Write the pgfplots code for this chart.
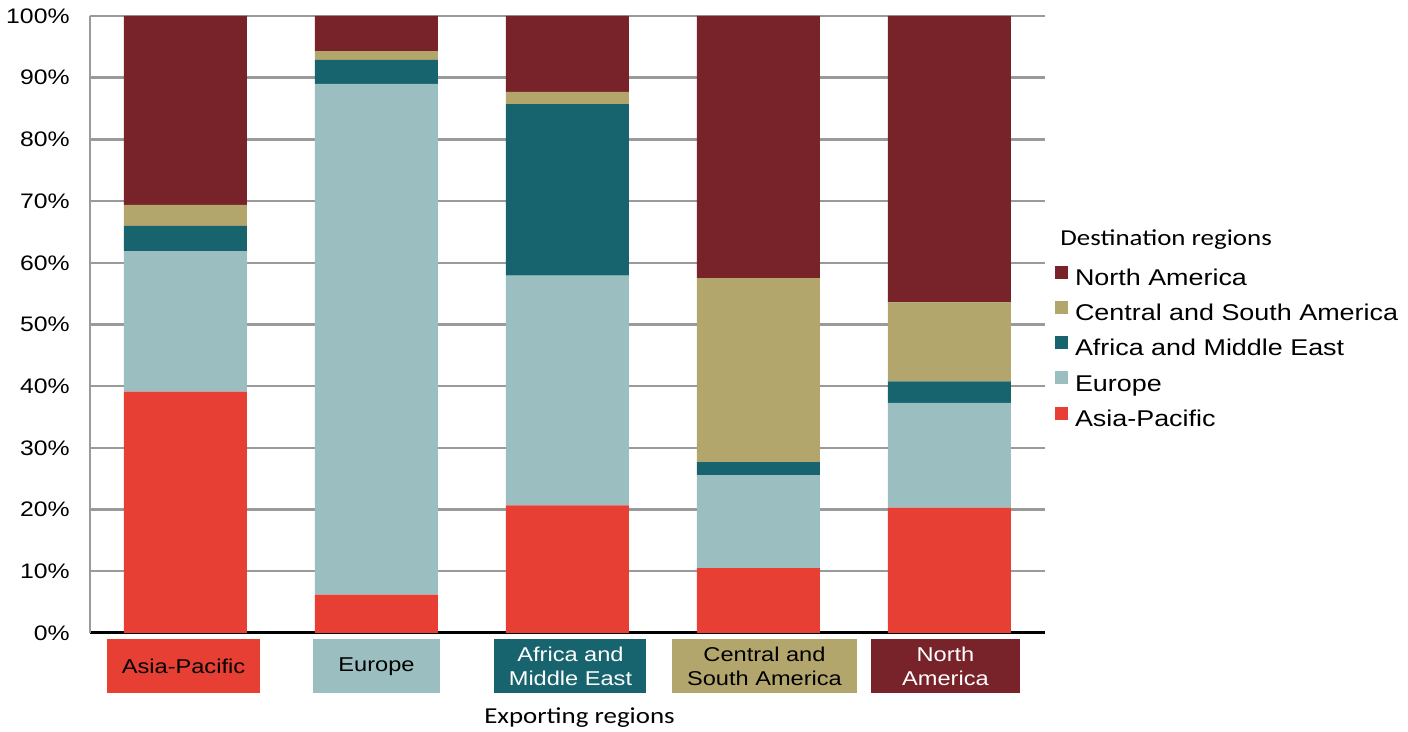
\documentclass[border=0pt]{standalone}
\usepackage{fontspec}
\setmainfont{Liberation Sans}[FakeStretch=1.18]
\newfontfamily\calib{Carlito}[FakeStretch=1.18]
\usepackage{pgfplots}
\usepackage{pgfplotstable}
\pgfplotsset{compat=1.18}
\usetikzlibrary{calc}

\definecolor{apred}{HTML}{E83F35}
\definecolor{eublue}{HTML}{9BBEC1}
\definecolor{ameteal}{HTML}{17646E}
\definecolor{csagold}{HTML}{B3A66C}
\definecolor{namaroon}{HTML}{78232A}
\definecolor{gridgray}{HTML}{9A9A9A}

\setlength{\fboxsep}{0pt}
% coloured box used as an x tick label; #5 = twice the sideways shift
\newcommand{\xb}[5]{\hspace*{#5}\colorbox{#1}{\parbox[c][27pt][c]{#2}{\centering\color{#3}#4\par}}}

% shares of exports by destination, one row per exporting region
\pgfplotstableread{
x   ap    eu    ame   csa   na
0   39.1  22.8  4.1   3.4   30.6
1   6.2   82.8  3.9   1.4   5.7
2   20.7  37.2  27.8  2.0   12.3
3   10.5  15.1  2.1   29.8  42.5
4   20.3  17.0  3.5   12.8  46.4
}\shares

\begin{document}
\begin{tikzpicture}
\begin{axis}[
    name=ax, at={(0,0)}, anchor=south west,
    scale only axis, width=477.5pt, height=308.5pt,
    ybar stacked, bar width=61.5pt,
    xmin=-0.5, xmax=4.5, ymin=0, ymax=100,
    xtick={0,...,4},
    xticklabels={
        \xb{apred}{76.5pt}{black}{Asia-Pacific}{-2pt},
        \xb{eublue}{63.5pt}{black}{Europe}{0pt},
        \xb{ameteal}{76pt}{white}{Africa and\\Middle East}{3pt},
        \xb{csagold}{92.5pt}{black}{Central and\\South America}{6pt},
        \xb{namaroon}{74.5pt}{white}{North\\America}{-4pt}},
    ytick={0,10,...,100},
    yticklabel={\pgfmathprintnumber{\tick}\%},
    /pgf/number format/assume math mode=true,
    axis lines*=left,
    x axis line style={black, line width=1.5pt},
    y axis line style={gridgray, line width=1pt},
    major tick length=0pt,
    ymajorgrids, grid style={gridgray, line width=1.2pt},
    yticklabel style={font=\fontsize{10.5}{12}\selectfont, inner sep=0pt, anchor=east, xshift=-10pt},
    xticklabel style={font=\fontsize{10}{11.7}\selectfont, inner sep=0pt, anchor=north, yshift=-3pt},
    reverse legend,
    legend cell align=left,
    legend style={at={(1.0105,0.5950)}, anchor=north west, draw=none, fill=none,
        inner sep=0pt, outer sep=0pt, row sep=4.6pt,
        font=\fontsize{11.4}{13}\selectfont,
        nodes={inner sep=0pt, text height=8.2pt, text depth=3.2pt}},
    legend image code/.code={\fill[#1,draw=none] (0pt,0.8pt) rectangle (6.5pt,7.3pt); \path (10pt,0pt);},
]
\addplot[fill=apred, draw=none] table[x=x, y=ap] {\shares};
\addlegendentry{Asia-Pacific}
\addplot[fill=eublue, draw=none] table[x=x, y=eu] {\shares};
\addlegendentry{Europe}
\addplot[fill=ameteal, draw=none] table[x=x, y=ame] {\shares};
\addlegendentry{Africa and Middle East}
\addplot[fill=csagold, draw=none] table[x=x, y=csa] {\shares};
\addlegendentry{Central and South America}
\addplot[fill=namaroon, draw=none] table[x=x, y=na] {\shares};
\addlegendentry{North America}
\end{axis}
\node[anchor=west, inner sep=0pt, font=\calib\fontsize{11.4}{13}\selectfont]
    at ($(ax.south west)+(485pt,196.5pt)$) {Destination regions};
\node[inner sep=0pt, font=\calib\fontsize{11.4}{13}\selectfont]
    at ($(ax.south west)+(244.75pt,-42.5pt)$) {Exporting regions};
\pgfresetboundingbox
\path[use as bounding box] ($(ax.south west)+(-45pt,-49.5pt)$) rectangle ($(ax.south west)+(659pt,316.5pt)$);
\end{tikzpicture}
\end{document}
